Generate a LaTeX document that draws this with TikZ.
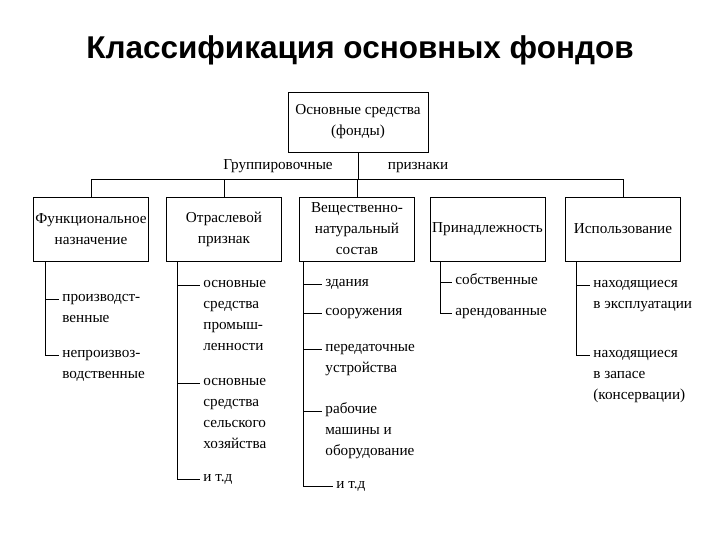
\documentclass[tikz,border=0pt]{standalone}
\usepackage{fontspec}
\setmainfont{Liberation Serif}
\newfontfamily\titlefont{Liberation Sans}
\usetikzlibrary{calc}
\newcommand{\dfont}{\fontsize{15.2}{21}\selectfont}
\newcommand{\ml}[1]{\begin{tabular}[t]{@{}l@{}}#1\end{tabular}}
\begin{document}
\begin{tikzpicture}[x=1pt,y=-1pt, line width=0.8pt,
  box/.style={draw, minimum width=115pt, minimum height=64pt, align=center, inner sep=0.5pt, font=\dfont},
  item/.style={anchor=mid west, inner xsep=3pt, inner ysep=0pt, font=\dfont},
  lbl/.style={font=\dfont, inner sep=1pt, anchor=base}]
\useasboundingbox (0,0) rectangle (720,540);
\node[font=\titlefont\bfseries\fontsize{31.5}{36}\selectfont] (title) at (360,50) {Классификация основных фондов};
\node[box, minimum width=140pt, minimum height=60pt] (root) at (358,122) {Основные средства\\(фонды)};
\node[lbl] (g1) at (278,170) {Группировочные};
\node[lbl] (g2) at (418,170) {признаки};

\node[box] (b1) at (91,229) {Функциональное\\назначение};
\node[box] (b2) at (224,229) {Отраслевой\\признак};
\node[box] (b3) at (357,229) {Вещественно-\\натуральный\\состав};
\node[box] (b4) at (487.5,229) {Принадлежность};
\node[box] (b5) at (623,229) {Использование};

\coordinate (busL) at (91,179);
\coordinate (busR) at (623,179);
\draw (busL) -- (busR);
\draw (root.south) -- (root.south |- busL);
\foreach \b in {b1,b2,b3,b5} \draw (\b.north) -- (\b.north |- busL);

% verticals
\coordinate (v1) at ($(b1.south west)+(12,0)$);
\coordinate (v2) at ($(b2.south west)+(11,0)$);
\coordinate (v3) at ($(b3.south west)+(4,0)$);
\coordinate (v4) at ($(b4.south west)+(11,0)$);
\coordinate (v5) at ($(b5.south west)+(11,0)$);

% box 1 items
\node[item] (p11) at (59,299) {\ml{производст-\\венные}};
\node[item] (p12) at (59,355) {\ml{непроизвоз-\\водственные}};
% box 2 items
\node[item] (p21) at (200,285) {\ml{основные\\средства\\промыш-\\ленности}};
\node[item] (p22) at (200,383) {\ml{основные\\средства\\сельского\\хозяйства}};
\node[item] (p23) at (200,479) {\ml{и т.д}};
% box 3 items
\node[item] (p31) at (322,284) {\ml{здания}};
\node[item] (p32) at (322,313) {\ml{сооружения}};
\node[item] (p33) at (322,349) {\ml{передаточные\\устройства}};
\node[item] (p34) at (322,411) {\ml{рабочие\\машины и\\оборудование}};
\node[item] (p35) at (333,486) {\ml{и т.д}};
% box 4 items
\node[item] (p41) at (452,282) {\ml{собственные}};
\node[item] (p42) at (452,313) {\ml{арендованные}};
% box 5 items
\node[item] (p51) at (590,285) {\ml{находящиеся\\в эксплуатации}};
\node[item] (p52) at (590,355) {\ml{находящиеся\\в запасе\\(консервации)}};

\draw (v1) -- (v1 |- p12.mid west) -- (p12.mid west);
\draw (v1 |- p11.mid west) -- (p11.mid west);
\draw (v2) -- (v2 |- p23.mid west) -- (p23.mid west);
\foreach \p in {p21,p22} \draw (v2 |- \p.mid west) -- (\p.mid west);
\draw (v3) -- (v3 |- p35.mid west) -- (p35.mid west);
\foreach \p in {p31,p32,p33,p34} \draw (v3 |- \p.mid west) -- (\p.mid west);
\draw (v4) -- (v4 |- p42.mid west) -- (p42.mid west);
\draw (v4 |- p41.mid west) -- (p41.mid west);
\draw (v5) -- (v5 |- p52.mid west) -- (p52.mid west);
\draw (v5 |- p51.mid west) -- (p51.mid west);
\end{tikzpicture}
\end{document}
